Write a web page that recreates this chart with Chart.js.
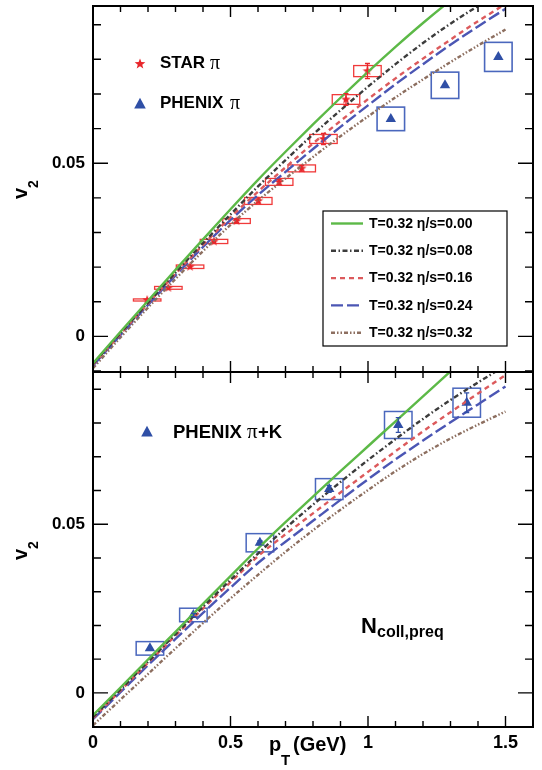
<!DOCTYPE html>
<html>
<head>
<meta charset="utf-8">
<script src="https://cdn.jsdelivr.net/npm/chart.js@4.4.0/dist/chart.umd.min.js"></script>
<style>
  html, body { margin: 0; padding: 0; background: #fff; }
  #wrap { position: relative; width: 542px; height: 770px; overflow: hidden; }
  #wrap canvas { position: absolute; left: 0; top: 0; }
  .ann { position: absolute; white-space: pre; color: #000; font-family: 'Liberation Sans', Arial, sans-serif; font-weight: bold; }
  .rot { transform: rotate(-90deg); transform-origin: 0 0; }
</style>
</head>
<body>
<div id="wrap">
  <canvas id="topChart" width="542" height="770"></canvas>
  <canvas id="botChart" width="542" height="770"></canvas>
</div>
<script>
// ---- data ----
const ptGrid = [0, 0.1, 0.2, 0.3, 0.4, 0.5, 0.6, 0.7, 0.8, 0.9, 1.0, 1.1, 1.2, 1.3, 1.4, 1.5];

// upper panel: hydro curves
const topEta000 = [-0.0078, 0.0013, 0.0103, 0.0192, 0.0280, 0.0367, 0.0452, 0.0533, 0.0612, 0.0689, 0.0764, 0.0836, 0.0905, 0.0970, 0.1032, 0.1092];
const topEta008 = [-0.0080, 0.0009, 0.0097, 0.0184, 0.0269, 0.0352, 0.0433, 0.0509, 0.0583, 0.0653, 0.0721, 0.0786, 0.0847, 0.0903, 0.0954, 0.1002];
const topEta016 = [-0.0082, 0.0007, 0.0095, 0.0181, 0.0264, 0.0344, 0.0418, 0.0488, 0.0557, 0.0622, 0.0685, 0.0745, 0.0802, 0.0857, 0.0910, 0.0960];
const topEta024 = [-0.0085, 0.0004, 0.0091, 0.0176, 0.0258, 0.0336, 0.0408, 0.0475, 0.0541, 0.0605, 0.0667, 0.0728, 0.0786, 0.0842, 0.0895, 0.0946];
const topEta032 = [-0.0092, -0.0003, 0.0083, 0.0166, 0.0246, 0.0322, 0.0392, 0.0456, 0.0518, 0.0578, 0.0635, 0.0690, 0.0742, 0.0792, 0.0840, 0.0886];

// lower panel: hydro curves
const botEta000 = [-0.0066, 0.0016, 0.0099, 0.0181, 0.0264, 0.0346, 0.0428, 0.0506, 0.0582, 0.0657, 0.0731, 0.0805, 0.0879, 0.0953, 0.1027, 0.1100];
const botEta008 = [-0.0072, 0.0010, 0.0092, 0.0174, 0.0255, 0.0335, 0.0413, 0.0488, 0.0558, 0.0625, 0.0690, 0.0752, 0.0812, 0.0868, 0.0920, 0.0970];
const botEta016 = [-0.0075, 0.0007, 0.0089, 0.0170, 0.0250, 0.0328, 0.0405, 0.0470, 0.0532, 0.0594, 0.0655, 0.0716, 0.0775, 0.0832, 0.0887, 0.0942];
const botEta024 = [-0.0078, 0.0002, 0.0082, 0.0160, 0.0237, 0.0312, 0.0385, 0.0448, 0.0510, 0.0572, 0.0633, 0.0692, 0.0748, 0.0802, 0.0855, 0.0908];
const botEta032 = [-0.0096, -0.0020, 0.0056, 0.0132, 0.0207, 0.0280, 0.0350, 0.0418, 0.0482, 0.0543, 0.0601, 0.0657, 0.0708, 0.0754, 0.0795, 0.0834];

const curveLabels = ['T=0.32 \u03b7/s=0.00', 'T=0.32 \u03b7/s=0.08', 'T=0.32 \u03b7/s=0.16', 'T=0.32 \u03b7/s=0.24', 'T=0.32 \u03b7/s=0.32'];

// STAR pi (upper)
const starPt   = [0.197, 0.274, 0.353, 0.440, 0.522, 0.601, 0.677, 0.759, 0.838, 0.920, 0.998];
const starV2   = [0.0105, 0.0140, 0.0201, 0.0274, 0.0333, 0.0391, 0.0446, 0.0485, 0.0570, 0.0684, 0.0766];
const starStat = [0.0002, 0.0003, 0.0003, 0.0004, 0.0005, 0.0006, 0.0007, 0.0008, 0.0016, 0.0017, 0.0022];
const starSys  = [0.0003, 0.0004, 0.0005, 0.0006, 0.0007, 0.0010, 0.0010, 0.0010, 0.0013, 0.0014, 0.0016];

// PHENIX pi (upper)
const phxPt   = [1.083, 1.280, 1.474];
const phxV2   = [0.0628, 0.0725, 0.0807];
const phxStat = [0.0003, 0.0003, 0.0004];
const phxSys  = [0.0034, 0.0038, 0.0042];

// PHENIX pi+K (lower)
const pkPt   = [0.207, 0.365, 0.607, 0.859, 1.110, 1.359];
const pkV2   = [0.0132, 0.0231, 0.0445, 0.0604, 0.0794, 0.0860];
const pkStat = [0.0004, 0.0005, 0.0006, 0.0010, 0.0022, 0.0029];
const pkSys  = [0.0020, 0.0020, 0.0027, 0.0031, 0.0040, 0.0043];

// ---- styles ----
const curveColors = ['#5cb947', '#3c3c3c', '#dc5a5c', '#4b56b4', '#8d6f60'];
const curveDashes = [[], [5, 2.5, 1.5, 2.5], [5, 4], [12, 4], [4, 2, 1.5, 2, 1.5, 2]];
const starRed = '#e8262b';
const phxBlue = '#2f4fa6';
const FONT = "'Liberation Sans', Arial, sans-serif";

// filled five-point star for the STAR markers
function makeStar(r, color) {
    const c = document.createElement('canvas');
    const s = Math.ceil(r * 2 + 2);
    c.width = s; c.height = s;
    const g = c.getContext('2d');
    g.fillStyle = color;
    g.beginPath();
    for (let i = 0; i < 10; i++) {
        const rr = i % 2 === 0 ? r : r * 0.42;
        const a = -Math.PI / 2 + i * Math.PI / 5;
        g.lineTo(s / 2 + rr * Math.cos(a), s / 2 + rr * Math.sin(a));
    }
    g.closePath();
    g.fill();
    return c;
}
const starImg = makeStar(5, starRed);
const starImgBig = makeStar(5.6, starRed);

const toXY = (xs, ys) => xs.map((x, i) => ({ x: x, y: ys[i] }));

function curveSets(rows) {
    return rows.map((row, k) => ({
        type: 'line',
        label: curveLabels[k],
        data: toXY(ptGrid, row),
        borderColor: curveColors[k],
        borderDash: curveDashes[k],
        borderWidth: 2.4,
        pointRadius: 0,
        cubicInterpolationMode: 'monotone',
        fill: false
    }));
}

// frame with inward ticks on all four sides
const frameTicks = {
    id: 'frameTicks',
    afterDraw(chart) {
        const { ctx, chartArea: a, scales: { x, y } } = chart;
        ctx.save();
        ctx.strokeStyle = '#000';
        ctx.lineWidth = 1.4;
        ctx.beginPath();
        for (let i = 0; i <= 16; i++) {
            const px = x.getPixelForValue(i / 10);
            const len = i % 5 === 0 ? 11 : 6;
            ctx.moveTo(px, a.bottom); ctx.lineTo(px, a.bottom - len);
            ctx.moveTo(px, a.top); ctx.lineTo(px, a.top + len);
        }
        for (let j = -1; j <= 9; j++) {
            const py = y.getPixelForValue(j / 100);
            const len = j % 5 === 0 ? 15 : 8;
            ctx.moveTo(a.left, py); ctx.lineTo(a.left + len, py);
            ctx.moveTo(a.right, py); ctx.lineTo(a.right - len, py);
        }
        ctx.stroke();
        ctx.lineWidth = 2;
        ctx.strokeRect(a.left, a.top, a.right - a.left, a.bottom - a.top);
        ctx.restore();
    }
};

// systematic boxes (under) and statistical bars (over)
const errorMarks = {
    id: 'errorMarks',
    beforeDatasetsDraw(chart, args, opts) {
        const { ctx, chartArea: a, scales: { x, y } } = chart;
        ctx.save();
        ctx.beginPath();
        ctx.rect(a.left, a.top, a.right - a.left, a.bottom - a.top);
        ctx.clip();
        opts.sets.forEach(s => {
            ctx.strokeStyle = s.boxColor;
            ctx.lineWidth = s.boxWidth;
            s.pt.forEach((p, i) => {
                const x0 = x.getPixelForValue(p - 0.05);
                const x1 = x.getPixelForValue(p + 0.05);
                const y0 = y.getPixelForValue(s.v2[i] + s.sys[i]);
                const y1 = y.getPixelForValue(s.v2[i] - s.sys[i]);
                ctx.strokeRect(x0, y0, x1 - x0, y1 - y0);
            });
        });
        ctx.restore();
    },
    afterDatasetsDraw(chart, args, opts) {
        const { ctx, scales: { x, y } } = chart;
        ctx.save();
        opts.sets.forEach(s => {
            ctx.strokeStyle = s.barColor;
            ctx.lineWidth = 1.3;
            ctx.beginPath();
            s.pt.forEach((p, i) => {
                const px = x.getPixelForValue(p);
                const y0 = y.getPixelForValue(s.v2[i] + s.stat[i]);
                const y1 = y.getPixelForValue(s.v2[i] - s.stat[i]);
                if (y1 - y0 < 3) return;
                ctx.moveTo(px, y0); ctx.lineTo(px, y1);
                ctx.moveTo(px - 2.5, y0); ctx.lineTo(px + 2.5, y0);
                ctx.moveTo(px - 2.5, y1); ctx.lineTo(px + 2.5, y1);
            });
            ctx.stroke();
        });
        ctx.restore();
    }
};

// legend markers and the boxed curve legend
const panelLegend = {
    id: 'panelLegend',
    afterDraw(chart, args, opts) {
        const { ctx, chartArea: a } = chart;
        ctx.save();
        (opts.markers || []).forEach(m => {
            const cx = a.left + m.dx, cy = a.top + m.dy;
            if (m.kind === 'star') {
                ctx.drawImage(starImgBig, cx - starImgBig.width / 2, cy - starImgBig.height / 2);
            } else {
                ctx.fillStyle = phxBlue;
                ctx.beginPath();
                ctx.moveTo(cx, cy - 6.2);
                ctx.lineTo(cx + 5.8, cy + 4.4);
                ctx.lineTo(cx - 5.8, cy + 4.4);
                ctx.closePath();
                ctx.fill();
            }
        });
        if (opts.box) {
            const bx = a.left + 230, by = a.top + 205, bw = 184, bh = 135;
            ctx.fillStyle = '#fff';
            ctx.fillRect(bx, by, bw, bh);
            ctx.strokeStyle = '#000';
            ctx.lineWidth = 1.2;
            ctx.strokeRect(bx, by, bw, bh);
            ctx.font = 'bold 14px ' + FONT;
            ctx.textBaseline = 'middle';
            for (let k = 0; k < 5; k++) {
                const ds = chart.data.datasets[k];
                const ry = by + 12.5 + k * 27.3;
                ctx.strokeStyle = ds.borderColor;
                ctx.lineWidth = 2.4;
                ctx.setLineDash(ds.borderDash);
                ctx.beginPath();
                ctx.moveTo(bx + 8, ry); ctx.lineTo(bx + 40, ry);
                ctx.stroke();
                ctx.setLineDash([]);
                ctx.fillStyle = '#000';
                ctx.fillText(ds.label, bx + 46, ry + 0.5);
            }
        }
        ctx.restore();
    }
};

function yAxis(min, max) {
    return {
        type: 'linear', min: min, max: max,
        grid: { display: false, drawTicks: false },
        border: { display: false },
        afterFit: s => { s.width = 93; s.paddingTop = 0; s.paddingBottom = 0; },
        afterBuildTicks: s => { s.ticks = [{ value: 0 }, { value: 0.05 }]; },
        ticks: {
            padding: 8, color: '#000',
            font: { family: FONT, weight: 'bold', size: 17 },
            callback: v => (v === 0 ? '0' : v.toFixed(2))
        }
    };
}

function xAxis(showLabels, h) {
    return {
        type: 'linear', min: 0, max: 1.6,
        grid: { display: false, drawTicks: false },
        border: { display: false },
        afterFit: s => { s.height = h; s.paddingLeft = 0; s.paddingRight = 0; },
        afterBuildTicks: s => { s.ticks = [{ value: 0 }, { value: 0.5 }, { value: 1 }, { value: 1.5 }]; },
        ticks: {
            display: showLabels, padding: 5, color: '#000', maxRotation: 0,
            font: { family: FONT, weight: 'bold', size: 18 },
            callback: v => String(v)
        }
    };
}

const common = {
    responsive: false,
    animation: false,
    events: [],
    plugins: { legend: { display: false }, tooltip: { enabled: false } }
};

new Chart(document.getElementById('topChart'), {
    type: 'line',
    data: {
        datasets: curveSets([topEta000, topEta008, topEta016, topEta024, topEta032]).concat([
            { type: 'scatter', label: 'STAR', data: toXY(starPt, starV2), pointStyle: starImg, showLine: false },
            { type: 'scatter', label: 'PHENIX', data: toXY(phxPt, phxV2), pointStyle: 'triangle', pointRadius: 6,
              backgroundColor: phxBlue, borderColor: phxBlue, borderWidth: 0, showLine: false }
        ])
    },
    options: Object.assign({}, common, {
        layout: { padding: { left: 0, top: 4, right: 9, bottom: 398 } },
        scales: { x: xAxis(false, 0), y: yAxis(-0.0103, 0.0954) },
        plugins: Object.assign({}, common.plugins, {
            errorMarks: { sets: [
                { pt: starPt, v2: starV2, stat: starStat, sys: starSys, boxColor: '#f03a3a', boxWidth: 1.3, barColor: starRed },
                { pt: phxPt, v2: phxV2, stat: phxStat, sys: phxSys, boxColor: '#4a67bd', boxWidth: 1.6, barColor: phxBlue }
            ] },
            panelLegend: { box: true, markers: [{ kind: 'star', dx: 47, dy: 58 }, { kind: 'tri', dx: 47, dy: 98 }] }
        })
    }),
    plugins: [errorMarks, panelLegend, frameTicks]
});

new Chart(document.getElementById('botChart'), {
    type: 'line',
    data: {
        datasets: curveSets([botEta000, botEta008, botEta016, botEta024, botEta032]).concat([
            { type: 'scatter', label: 'PHENIX pi+K', data: toXY(pkPt, pkV2), pointStyle: 'triangle', pointRadius: 6,
              backgroundColor: phxBlue, borderColor: phxBlue, borderWidth: 0, showLine: false }
        ])
    },
    options: Object.assign({}, common, {
        layout: { padding: { left: 0, top: 372, right: 9, bottom: 0 } },
        scales: { x: xAxis(true, 43), y: yAxis(-0.0101, 0.0951) },
        plugins: Object.assign({}, common.plugins, {
            errorMarks: { sets: [
                { pt: pkPt, v2: pkV2, stat: pkStat, sys: pkSys, boxColor: '#4a67bd', boxWidth: 1.5, barColor: phxBlue }
            ] },
            panelLegend: { box: false, markers: [{ kind: 'tri', dx: 54, dy: 60 }] }
        })
    }),
    plugins: [errorMarks, panelLegend, frameTicks]
});

// ---- text annotations (HTML) ----
const wrap = document.getElementById('wrap');
function place(txt, x, base, size, opt) {
    opt = opt || {};
    const el = document.createElement('span');
    el.className = 'ann' + (opt.rot ? ' rot' : '');
    el.textContent = txt;
    const asc = opt.serif ? 0.8375 : 0.8465;
    el.style.fontSize = size + 'px';
    el.style.lineHeight = size + 'px';
    if (opt.serif) {
        el.style.fontFamily = "'Liberation Serif', 'DejaVu Serif', serif";
        el.style.fontWeight = 'normal';
    }
    if (opt.rot) {
        // x is the baseline position, base is where the text starts (bottom)
        el.style.left = (x - asc * size) + 'px';
        el.style.top = base + 'px';
    } else {
        el.style.left = x + 'px';
        el.style.top = (base - asc * size) + 'px';
    }
    wrap.appendChild(el);
    return el.offsetWidth;
}

// legend words
let w = place('STAR ', 160, 68.3, 17);
place('\u03c0', 160 + w, 68.3, 20, { serif: true });
w = place('PHENIX ', 160, 108.3, 17);
place('\u03c0', 160 + w + 2, 108.3, 20, { serif: true });
w = place('PHENIX ', 173, 438.3, 18.5);
let w2 = place('\u03c0', 173 + w, 438.3, 21, { serif: true });
place('+K', 173 + w + w2, 438.3, 18.5);

// N_coll,preq
w = place('N', 361, 633.3, 22);
place('coll,preq', 361 + w, 637.3, 16);

// axis titles
w = place('p', 269, 751, 20);
w2 = place('T', 269 + w, 765, 15);
place('(GeV)', 269 + w + w2 + 3, 751, 20);

[0, 361].forEach(dy => {
    const vw = place('v', 26.5, 199 + dy, 20, { rot: true });
    place('2', 37.5, 199 + dy - vw, 14, { rot: true });
});
</script>
</body>
</html>
